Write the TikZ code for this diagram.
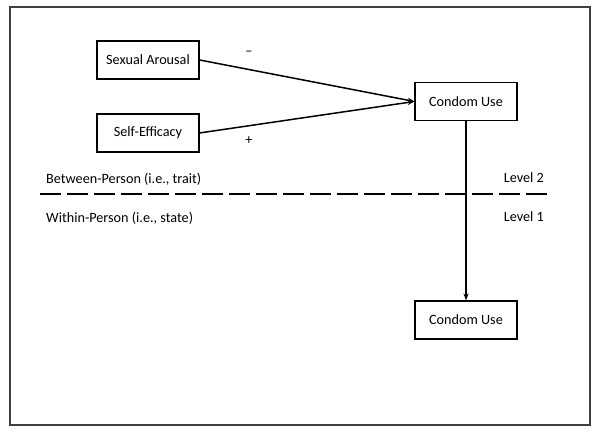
\documentclass[tikz,border=0pt]{standalone}
\usepackage{fontspec}
\setmainfont{Carlito}
\usepackage{tikz}
\usetikzlibrary{arrows.meta}

\begin{document}
\begin{tikzpicture}
                        [
                            scale=0.3515,
                            box style/.style={draw, line width=1.1pt, minimum width=102pt, minimum height=38pt, inner sep=0pt, font=\fontsize{14.2}{16}\selectfont},
                            arrow style/.style={-{Stealth[length=7pt,width=5pt]}, line width=1.5pt},
                            level text/.style={font=\fontsize{14.2}{16}\selectfont, inner sep=0pt}
                        ]
                        \useasboundingbox (0,0) rectangle (60,43.4);
                        \draw[black!75, line width=1.5pt] (1,0.9) rectangle (59,42.7);
                        \node[box style] (arousal) at (14.8,37.4) {Sexual Arousal};
                        \node[box style] (efficacy) at (14.8,30.1) {Self-Efficacy};
                        \node[box style] (condomB) at (46.6,33.25) {Condom Use};
                        \node[box style] (condomW) at (46.6,11.4) {Condom Use};
                        \draw[arrow style] (arousal.east) -- (condomB.west);
                        \draw[arrow style] (efficacy.east) -- (condomB.west);
                        \draw[arrow style] (condomB.south) -- (condomW.north);
                        \node[level text] (minus) at (24.9,38.1) {–};
                        \node[level text] (plus) at (24.9,29.3) {+};
                        \coordinate (dashL) at (4,24);
                        \coordinate (dashR) at (55,24);
                        \draw[line width=2.8pt, dash pattern=on 21pt off 6pt] (dashL) -- (dashR); % level split
                        \node[level text, anchor=west] (between) at (4.6,25.5) {Between-Person (i.e., trait)};
                        \node[level text, anchor=west] (within) at (4.6,21.6) {Within-Person (i.e., state)};
                        \node[level text, anchor=east] (lvltwo) at (54.4,25.6) {Level 2};
                        \node[level text, anchor=east] (lvlone) at (54.4,21.7) {Level 1};
                        \end{tikzpicture}
\end{document}
